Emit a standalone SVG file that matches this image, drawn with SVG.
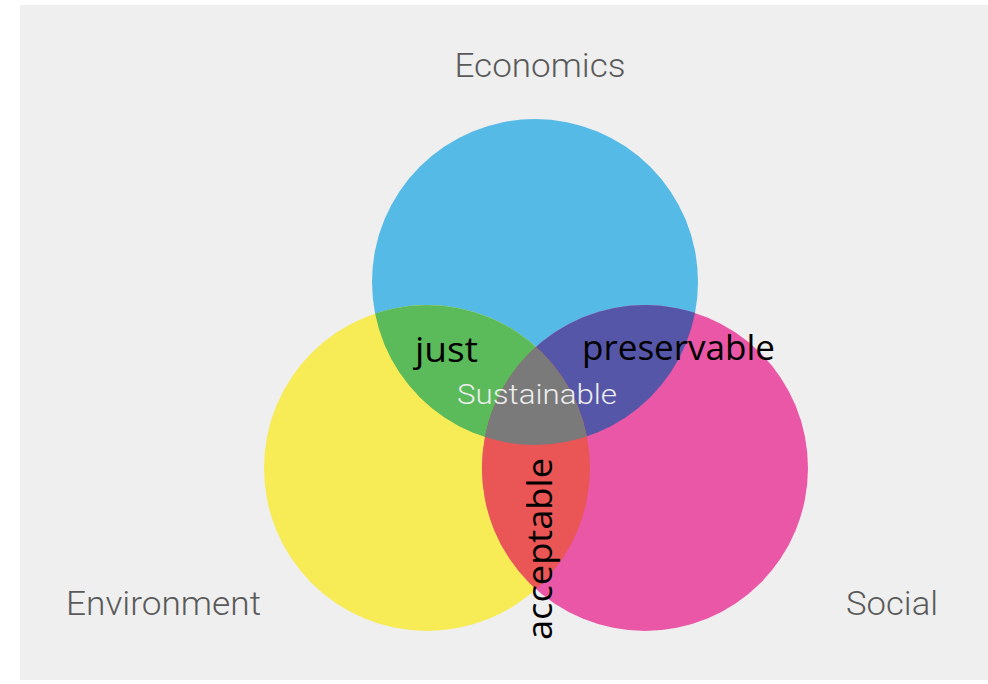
<svg xmlns="http://www.w3.org/2000/svg" width="988" height="684" viewBox="0 0 988 684">
<style>
.cat{font-family:Roboto,"Liberation Sans",sans-serif;font-weight:300;font-size:34px;fill:#5a5a5a}
.lab{font-family:"Open Sans","DejaVu Sans",sans-serif;font-size:34px;fill:#000}
</style>
<defs>
<clipPath id="cB"><circle cx="535" cy="282" r="163"/></clipPath>
<clipPath id="cY"><circle cx="427" cy="468" r="163"/></clipPath>
<clipPath id="cP"><circle cx="645" cy="468" r="163"/></clipPath>
</defs>
<rect x="0" y="0" width="988" height="684" fill="#ffffff"/>
<rect x="20" y="5" width="968" height="675" fill="#efefef"/>
<g id="economics"><circle cx="535" cy="282" r="163" fill="#56bae6"/></g>
<g id="environment"><circle cx="427" cy="468" r="163" fill="#f7ec55"/></g>
<g id="social"><circle cx="645" cy="468" r="163" fill="#e957a6"/></g>
<g id="just-area" clip-path="url(#cB)"><circle cx="427" cy="468" r="163" fill="#5bba5a"/></g>
<g id="preservable-area" clip-path="url(#cB)"><circle cx="645" cy="468" r="163" fill="#5656a8"/></g>
<g id="acceptable-area" clip-path="url(#cY)"><circle cx="645" cy="468" r="163" fill="#e95655"/></g>
<g id="sustainable-area" clip-path="url(#cB)"><g clip-path="url(#cY)"><circle cx="645" cy="468" r="163" fill="#7a7a7a"/></g></g>
<g id="connectors"></g>
<g id="labels">
<text class="cat" x="540" y="77" text-anchor="middle" textLength="171" lengthAdjust="spacingAndGlyphs">Economics</text>
<text class="cat" x="66" y="615" textLength="195" lengthAdjust="spacingAndGlyphs">Environment</text>
<text class="cat" x="846" y="615" textLength="92" lengthAdjust="spacingAndGlyphs">Social</text>
<text x="457" y="404" font-family="Roboto,'Liberation Sans',sans-serif" font-weight="300" font-size="28" fill="#ececec" textLength="160" lengthAdjust="spacingAndGlyphs">Sustainable</text>
<text class="lab" x="415" y="362" textLength="63" lengthAdjust="spacingAndGlyphs">just</text>
<text class="lab" x="582" y="360" textLength="193" lengthAdjust="spacingAndGlyphs">preservable</text>
<text class="lab" transform="translate(552 640) rotate(-90)" x="0" y="0" textLength="182" lengthAdjust="spacingAndGlyphs">acceptable</text>
</g>
</svg>
